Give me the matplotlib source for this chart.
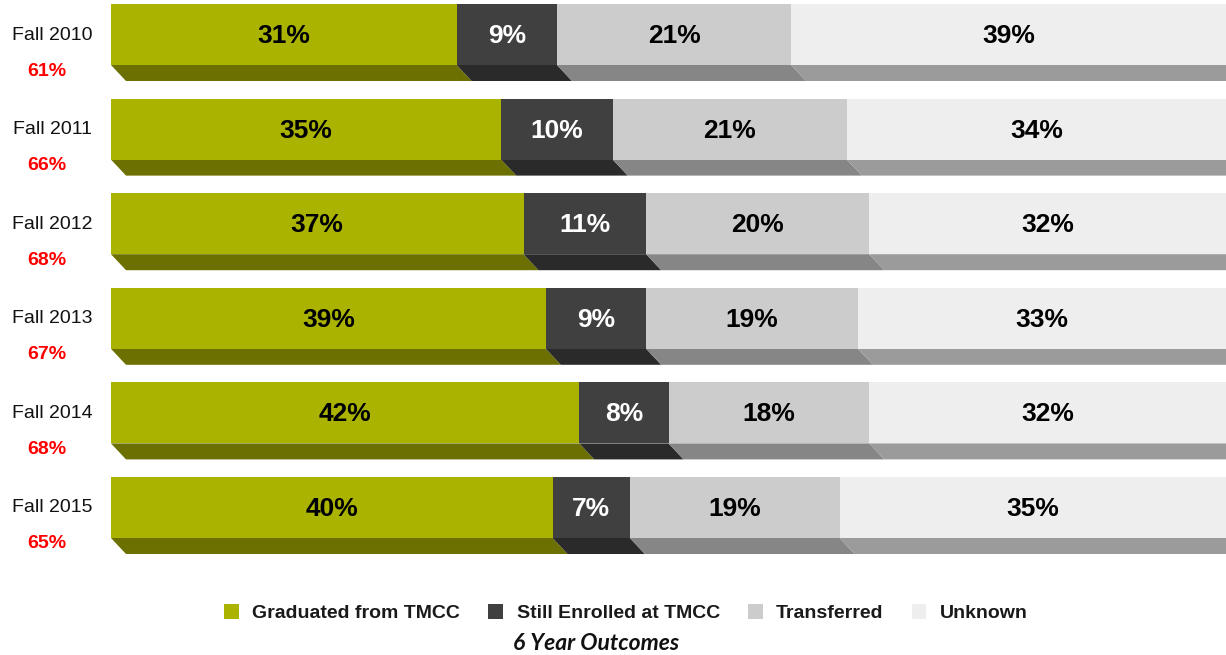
import matplotlib
matplotlib.use("Agg")
import matplotlib.pyplot as plt
from matplotlib.patches import Polygon, Patch
import numpy as np

# ---- data ----
cohorts = ["Fall 2010", "Fall 2011", "Fall 2012", "Fall 2013", "Fall 2014", "Fall 2015"]
success = ["61%", "66%", "68%", "67%", "68%", "65%"]
series_names = ["Graduated from TMCC", "Still Enrolled at TMCC", "Transferred", "Unknown"]
graduated = [31, 35, 37, 39, 42, 40]
enrolled = [9, 10, 11, 9, 8, 7]
transferred = [21, 21, 20, 19, 18, 19]
unknown = [39, 34, 32, 33, 32, 35]
title = "6 Year Outcomes"

# ---- styles ----
front_colors = ["#A9B300", "#404040", "#CCCCCC", "#EEEEEE"]
side_colors = ["#6B7000", "#2A2A2A", "#868686", "#9B9B9B"]
label_colors = ["black", "white", "black", "black"]

W, H = 1226, 655
fig = plt.figure(figsize=(W / 100, H / 100), dpi=100)
ax = fig.add_axes([0, 0, 1, 1])
x0_px = 111.0
px_per_pct = (W - x0_px) / 100.0
ax.set_xlim(-x0_px / px_per_pct, 100)
ax.set_ylim(H, 0)
ax.axis("off")

front_h = 61.0
depth_h = 16.0
shear = 15.0 / px_per_pct
pitch = 94.6
top0 = 4.0

data = np.array([graduated, enrolled, transferred, unknown], dtype=float).T
for i, row in enumerate(data):
    widths = row / row.sum() * 100.0
    lefts = np.concatenate([[0], np.cumsum(widths)[:-1]])
    top = top0 + i * pitch
    for j in range(4):
        l, w = lefts[j], widths[j]
        poly = Polygon([(l, top + front_h), (l + w, top + front_h),
                        (l + w + shear, top + front_h + depth_h),
                        (l + shear, top + front_h + depth_h)],
                       closed=True, facecolor=side_colors[j], edgecolor="none", zorder=1)
        ax.add_patch(poly)
    ax.barh(top + front_h / 2, widths, left=lefts, height=front_h,
            color=front_colors, edgecolor="none", zorder=2)
    for j in range(4):
        ax.text(lefts[j] + widths[j] / 2, top + front_h / 2 + 1.5, f"{int(row[j])}%",
                ha="center", va="center", fontsize=19, fontweight="bold",
                family="Liberation Sans", color=label_colors[j], zorder=3)
    ax.text(52 / W, 1 - (top + 31) / H, cohorts[i], transform=fig.transFigure,
            ha="center", va="center", fontsize=14, family="Liberation Sans", color="#111111")
    ax.text(47 / W, 1 - (top + 67) / H, success[i], transform=fig.transFigure,
            ha="center", va="center", fontsize=14, fontweight="bold",
            family="Liberation Sans", color="#FF0000")

handles = [Patch(facecolor=c, edgecolor="none") for c in front_colors]
leg = fig.legend(handles, series_names, loc="center", bbox_to_anchor=(626 / W, 1 - 613 / H),
                 ncol=4, frameon=False, handlelength=0.75, handleheight=0.8,
                 handletextpad=0.7, columnspacing=1.45,
                 prop={"family": "Liberation Sans", "weight": "bold", "size": 14})
for t in leg.get_texts():
    t.set_color("#1a1a1a")

fig.text(596 / W, 1 - 644 / H, title, ha="center", va="center", fontsize=16.5,
         family="Lato", style="italic", fontweight="bold", color="#111111")

fig.savefig("out.png", dpi=100)
